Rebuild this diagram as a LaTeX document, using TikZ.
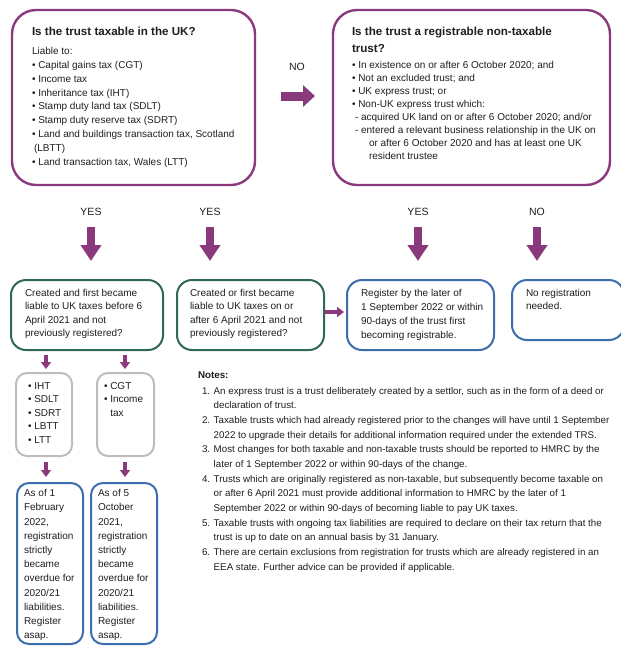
\documentclass[tikz,border=0pt]{standalone}
\usepackage{fontspec}
\setmainfont{Liberation Sans}
\usetikzlibrary{arrows.meta}
\definecolor{purp}{HTML}{8A3A7C}
\definecolor{grn}{HTML}{2F6A50}
\definecolor{blu}{HTML}{3C6DAD}
\definecolor{gry}{HTML}{BDBDBD}
\definecolor{txt}{HTML}{1E1E1E}
\begin{document}
\begin{tikzpicture}[x=1pt,y=-1pt,
  every node/.style={inner sep=0pt, outer sep=0pt, text=txt},
  bigbox/.style={draw=purp, line width=2.4pt, rounded corners=24pt},
  gbox/.style={draw=grn, line width=2pt, rounded corners=15pt},
  bbox/.style={draw=blu, line width=2pt, rounded corners=15pt},
  greybox/.style={draw=gry, line width=2pt, rounded corners=11pt},
  bluebox/.style={draw=blu, line width=2pt, rounded corners=12pt},
  ttl/.style={anchor=north west, align=left, font=\fontsize{11.6}{17}\selectfont\bfseries},
  body/.style={anchor=north west, align=left, font=\fontsize{10}{#1}\selectfont},
  lbl/.style={font=\fontsize{10.5}{12}\selectfont},
  bigarrow/.style={draw=purp, line width=8pt, -{Triangle[width=20pt,length=16pt]}},
  noarrow/.style={draw=purp, line width=9pt, -{Triangle[width=21pt,length=12pt]}},
  smallarrow/.style={draw=purp, line width=3.5pt, -{Triangle[width=10pt,length=7pt]}}
]
\useasboundingbox (0,0) rectangle (621,646);

% top boxes
\node[bigbox, anchor=north west, minimum width=243pt, minimum height=175pt] (q1) at (12,10) {};
\node[bigbox, anchor=north west, minimum width=277pt, minimum height=175pt] (q2) at (333,10) {};

\node[ttl] (q1t) at (32,27) {Is the trust taxable in the UK?};
\node[body=13.8] (q1b) at (32,47.5) {Liable to:\\
• Capital gains tax (CGT)\\
• Income tax\\
• Inheritance tax (IHT)\\
• Stamp duty land tax (SDLT)\\
• Stamp duty reserve tax (SDRT)\\
• Land and buildings transaction tax, Scotland\\
\hspace*{2pt}(LBTT)\\
• Land transaction tax, Wales (LTT)};

\node[ttl] (q2t) at (352,27) {Is the trust a registrable non-taxable\\trust?};
\node[body=12.9] (q2b) at (352,61.5) {• In existence on or after 6 October 2020; and\\
• Not an excluded trust; and\\
• UK express trust; or\\
• Non-UK express trust which:\\
\hspace*{3pt}- acquired UK land on or after 6 October 2020; and/or\\
\hspace*{3pt}- entered a relevant business relationship in the UK on\\
\hspace*{17pt}or after 6 October 2020 and has at least one UK\\
\hspace*{17pt}resident trustee};

% NO arrow
\node[lbl] (nolbl) at (297,67) {NO};
\coordinate (na1) at (281,96);
\coordinate (na2) at (315,96);
\draw[noarrow] (na1) -- (na2);

% YES / NO labels and arrows
\node[lbl] (y1) at (91,212) {YES};
\node[lbl] (y2) at (210,212) {YES};
\node[lbl] (y3) at (418,212) {YES};
\node[lbl] (n2) at (537,212) {NO};
\foreach \xx/\nm in {91/a,210/b,418/c,537/d}{
  \coordinate (\nm s) at (\xx,227);
  \coordinate (\nm e) at (\xx,261);
  \draw[bigarrow] (\nm s) -- (\nm e);
}

% row 3 boxes
\node[gbox, anchor=north west, minimum width=152pt, minimum height=70pt] (ra) at (11,280) {};
\node[gbox, anchor=north west, minimum width=147pt, minimum height=70pt] (rb) at (177,280) {};
\node[bbox, anchor=north west, minimum width=147pt, minimum height=70pt] (rc) at (347,280) {};
\node[bbox, anchor=north west, minimum width=112pt, minimum height=60pt] (rd) at (512,280) {};

\node[body=13.2] (rat) at (25,289.5) {Created and first became\\liable to UK taxes before 6\\April 2021 and not\\previously registered?};
\node[body=13.2] (rbt) at (190,289.5) {Created or first became\\liable to UK taxes on or\\after 6 April 2021 and not\\previously registered?};
\node[body=14] (rct) at (361,289.5) {Register by the later of\\1 September 2022 or within\\90-days of the trust first\\becoming registrable.};
\node[body=12.5] (rdt) at (526,289.5) {No registration\\needed.};

\coordinate (ba1) at (325,312);
\coordinate (ba2) at (344,312);
\draw[smallarrow] (ba1) -- (ba2);

% row 4 grey boxes
\node[greybox, anchor=north west, minimum width=56pt, minimum height=83pt] (g1) at (16,373) {};
\node[greybox, anchor=north west, minimum width=57pt, minimum height=83pt] (g2) at (97,373) {};
\node[body=13.5] (g1t) at (28,382.5) {• IHT\\• SDLT\\• SDRT\\• LBTT\\• LTT};
\node[body=13.5] (g2t) at (104,382.5) {• CGT\\• Income\\\phantom{• }tax};

\coordinate (s1a) at (46,355); \coordinate (s1b) at (46,369);
\coordinate (s2a) at (125,355); \coordinate (s2b) at (125,369);
\draw[smallarrow] (s1a) -- (s1b);
\draw[smallarrow] (s2a) -- (s2b);

% row 5 blue boxes
\node[bluebox, anchor=north west, minimum width=66pt, minimum height=161pt] (b1) at (17,483) {};
\node[bluebox, anchor=north west, minimum width=66pt, minimum height=161pt] (b2) at (91,483) {};
\node[body=14.2] (b1t) at (24,489.5) {As of 1\\February\\2022,\\registration\\strictly\\became\\overdue for\\2020/21\\liabilities.\\Register\\asap.};
\node[body=14.2] (b2t) at (98,489.5) {As of 5\\October\\2021,\\registration\\strictly\\became\\overdue for\\2020/21\\liabilities.\\Register\\asap.};

\coordinate (t1a) at (46,462); \coordinate (t1b) at (46,477);
\coordinate (t2a) at (125,462); \coordinate (t2b) at (125,477);
\draw[smallarrow] (t1a) -- (t1b);
\draw[smallarrow] (t2a) -- (t2b);

% notes
\node[anchor=north west, font=\fontsize{9.8}{12}\selectfont\bfseries] (nh) at (198,372) {Notes:};
\node[anchor=north west, align=left, font=\fontsize{9.75}{14.67}\selectfont] (nb) at (202,387) {1. An express trust is a trust deliberately created by a settlor, such as in the form of a deed or\\
\phantom{1. }declaration of trust.\\
2. Taxable trusts which had already registered prior to the changes will have until 1 September\\
\phantom{2. }2022 to upgrade their details for additional information required under the extended TRS.\\
3. Most changes for both taxable and non-taxable trusts should be reported to HMRC by the\\
\phantom{3. }later of 1 September 2022 or within 90-days of the change.\\
4. Trusts which are originally registered as non-taxable, but subsequently become taxable on\\
\phantom{4. }or after 6 April 2021 must provide additional information to HMRC by the later of 1\\
\phantom{4. }September 2022 or within 90-days of becoming liable to pay UK taxes.\\
5. Taxable trusts with ongoing tax liabilities are required to declare on their tax return that the\\
\phantom{5. }trust is up to date on an annual basis by 31 January.\\
6. There are certain exclusions from registration for trusts which are already registered in an\\
\phantom{6. }EEA state. Further advice can be provided if applicable.};
\end{tikzpicture}
\end{document}
